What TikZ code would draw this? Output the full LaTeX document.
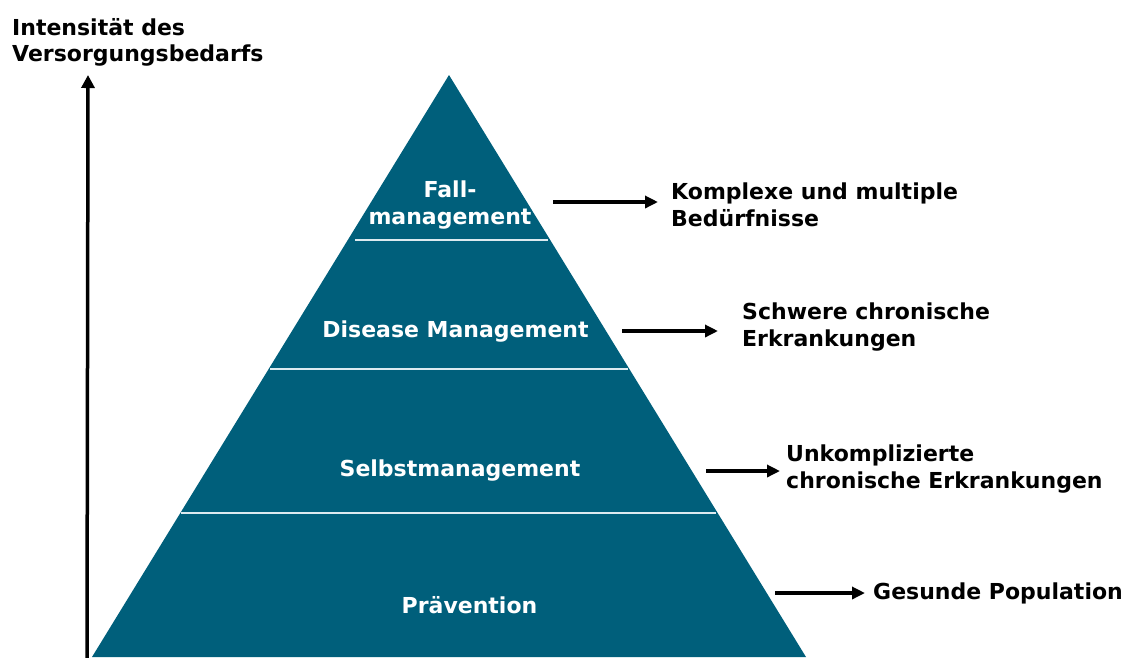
\documentclass[tikz,border=0pt]{standalone}
\usepackage{fontspec}
\setmainfont{DejaVu Sans}
\usetikzlibrary{arrows.meta}

\definecolor{pyrblau}{RGB}{0,95,123}
\definecolor{trennlinie}{RGB}{220,234,240}

\begin{document}
\begin{tikzpicture}[x=1pt,y=-1pt,
    schrift/.style={font=\fontsize{22}{26.5}\selectfont\bfseries, inner sep=0pt},
    stufe/.style={schrift, text=white, align=center},
    beschr/.style={schrift, text=black, align=left},
    pfeil/.style={line width=3.3pt, -{Triangle[length=13pt,width=12pt]}},
    achse/.style={line width=3.5pt, -{Triangle[length=13pt,width=13pt]}}]
  \useasboundingbox (0,0) rectangle (1126,657);

  %% pyramid
  \fill[pyrblau] (449,75) -- (806,657) -- (92,657) -- cycle;
  \draw[trennlinie, line width=1.5pt] (355,240) -- (548,240);
  \draw[trennlinie, line width=1.5pt] (270,369) -- (628,369);
  \draw[trennlinie, line width=1.5pt] (181,513) -- (716,513);

  %% levels
  \node[stufe, anchor=north] (fall) at (450,181) {Fall-\\management};
  \node[stufe, anchor=base] (disease) at (455.5,337) {Disease Management};
  \node[stufe, anchor=base] (selbst) at (460,476) {Selbstmanagement};
  \node[stufe, anchor=base] (praev) at (469.5,613) {Prävention};

  %% axis
  \coordinate (ursprung) at (87,660);
  \coordinate (spitze) at (88,75);
  \draw[achse] (ursprung) -- (spitze);
  \node[beschr, anchor=north west] (titel) at (12,18) {Intensität des\\Versorgungsbedarfs};

  %% needs
  \node[beschr, anchor=north west] (komplex) at (671,183) {Komplexe und multiple\\Bedürfnisse};
  \node[beschr, anchor=north west] (schwer) at (742,303) {Schwere chronische\\Erkrankungen};
  \node[beschr, anchor=north west] (unkompl) at (786,445) {Unkomplizierte\\chronische Erkrankungen};
  \node[beschr, anchor=base west] (gesund) at (873,599) {Gesunde Population};

  \coordinate (s1) at (553,202);
  \coordinate (s2) at (622,331);
  \coordinate (s3) at (706,471);
  \coordinate (s4) at (775,593);
  \draw[pfeil, shorten >=13pt] (s1) -- (s1 -| komplex.west);
  \draw[pfeil, shorten >=24pt] (s2) -- (s2 -| schwer.west);
  \draw[pfeil, shorten >=6pt] (s3) -- (s3 -| unkompl.west);
  \draw[pfeil, shorten >=8pt] (s4) -- (s4 -| gesund.west);

\end{tikzpicture}
\end{document}
